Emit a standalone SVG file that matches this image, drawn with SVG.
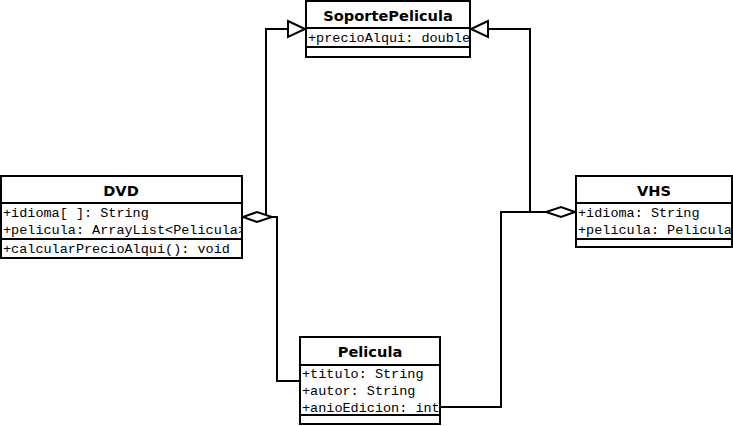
<svg xmlns="http://www.w3.org/2000/svg" width="733" height="426" viewBox="0 0 733 426">
<style>
.box{fill:#fff;stroke:#000;stroke-width:2}
.sep{stroke:#000;stroke-width:2}
.hd{font-family:"DejaVu Sans",Verdana,sans-serif;font-weight:bold;font-size:14.6px;text-anchor:middle;fill:#000}
.at{font-family:"Liberation Mono","Courier New",monospace;font-size:13.5px;fill:#000}
.ln{fill:none;stroke:#000;stroke-width:2}
.tri{fill:#fff;stroke:#000;stroke-width:2}
</style>
<defs>
<clipPath id="clipDVD"><rect x="2" y="204" width="239" height="53"/></clipPath>
<clipPath id="clipVHS"><rect x="577" y="204" width="154" height="35"/></clipPath>
</defs>
<rect width="733" height="426" fill="#fff"/>
<g id="connectors">
<polyline class="ln" points="266,215 266,29 288,29"/>
<polygon class="tri" points="288,21 305,29 288,37"/>
<polyline class="ln" points="530,212 530,29 488,29"/>
<polygon class="tri" points="488,21 471,29 488,37"/>
<polyline class="ln" points="272,217 277,217 277,381 300,381"/>
<polygon class="tri" points="243,217 257,212 272,217 257,222"/>
<polyline class="ln" points="546,212 501,212 501,407 440,407"/>
<polygon class="tri" points="575,212 561,207 546,212 561,217"/>
</g>
<g id="SoportePelicula">
<rect class="box" x="306" y="1" width="164" height="56"/>
<line class="sep" x1="306" y1="28" x2="470" y2="28"/>
<line class="sep" x1="306" y1="47" x2="470" y2="47"/>
<text class="hd" x="388" y="21">SoportePelicula</text>
<text class="at" x="308" y="42">+precioAlqui: double</text>
</g>
<g id="DVD">
<rect class="box" x="1" y="176" width="241" height="82"/>
<line class="sep" x1="1" y1="203" x2="242" y2="203"/>
<line class="sep" x1="1" y1="239" x2="242" y2="239"/>
<text class="hd" x="121" y="196">DVD</text>
<g clip-path="url(#clipDVD)">
<text class="at" x="3" y="217">+idioma[ ]: String</text>
<text class="at" x="3" y="234">+pelicula: ArrayList&lt;Pelicula&gt;</text>
<text class="at" x="3" y="253">+calcularPrecioAlqui(): void</text>
</g>
</g>
<g id="VHS">
<rect class="box" x="576" y="176" width="156" height="71"/>
<line class="sep" x1="576" y1="203" x2="732" y2="203"/>
<line class="sep" x1="576" y1="239" x2="732" y2="239"/>
<text class="hd" x="654" y="196">VHS</text>
<g clip-path="url(#clipVHS)">
<text class="at" x="578" y="217">+idioma: String</text>
<text class="at" x="578" y="234">+pelicula: Pelicula</text>
</g>
</g>
<g id="Pelicula">
<rect class="box" x="300" y="337" width="140" height="87"/>
<line class="sep" x1="300" y1="365" x2="440" y2="365"/>
<line class="sep" x1="300" y1="415" x2="440" y2="415"/>
<text class="hd" x="370" y="357">Pelicula</text>
<text class="at" x="302" y="378">+titulo: String</text>
<text class="at" x="302" y="395">+autor: String</text>
<text class="at" x="302" y="412">+anioEdicion: int</text>
</g>
</svg>
